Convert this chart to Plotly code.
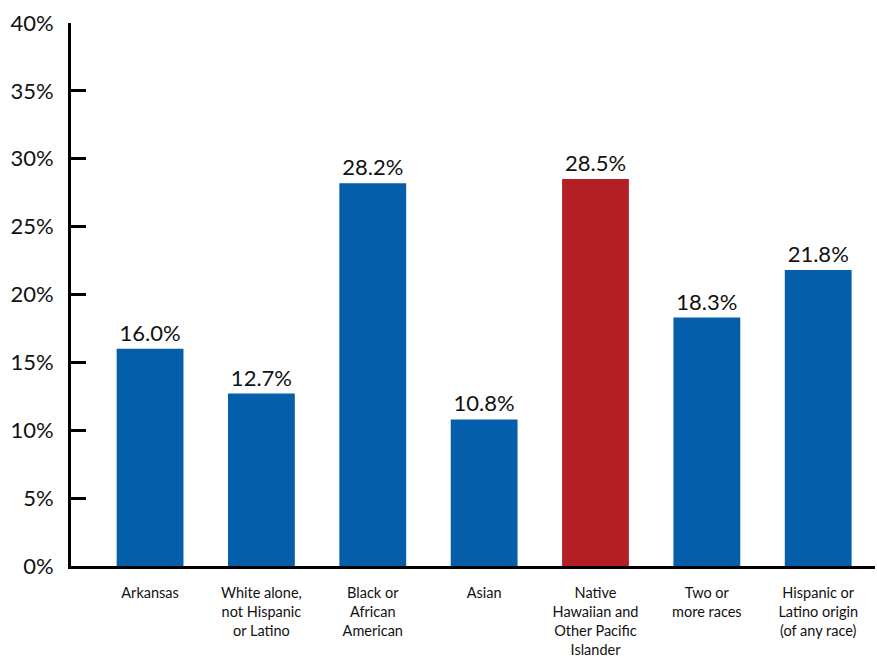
import plotly.graph_objects as go

categories = ["Arkansas", "White alone,<br>not Hispanic<br>or Latino", "Black or<br>African<br>American",
              "Asian", "Native<br>Hawaiian and<br>Other Pacific<br>Islander", "Two or<br>more races",
              "Hispanic or<br>Latino origin<br>(of any race)"]
values = [16.0, 12.7, 28.2, 10.8, 28.5, 18.3, 21.8]
colors = ["#045EA9", "#045EA9", "#045EA9", "#045EA9", "#B41F25", "#045EA9", "#045EA9"]
yticks = [0, 5, 10, 15, 20, 25, 30, 35, 40]

FONT = "Lato, 'Open Sans', sans-serif"

xs = list(range(len(categories)))
fig = go.Figure(go.Bar(
    x=xs, y=values, marker=dict(color=colors, line=dict(width=0)), width=0.6,
    text=[f"{v:.1f}%" for v in values], textposition="outside",
    textfont=dict(size=22, color="#111111", family=FONT), cliponaxis=False,
))
fig.update_layout(
    width=877, height=660, margin=dict(l=71, r=2, t=23, b=94),
    plot_bgcolor="white", paper_bgcolor="white", showlegend=False,
    font=dict(family=FONT, color="#111111"),
)
fig.update_xaxes(
    tickmode="array", tickvals=xs, ticktext=categories, range=[-0.71, 6.51],
    showline=True, linecolor="black", linewidth=3, ticks="", showgrid=False, automargin=False,
    tickfont=dict(size=14.5, family=FONT, color="#111111"), ticklabelstandoff=12, zeroline=False,
)
fig.update_yaxes(
    range=[0, 40], tickmode="array", tickvals=yticks, ticktext=[f"{t}%" for t in yticks],
    showline=True, linecolor="black", linewidth=3, ticks="inside", ticklen=15, tickwidth=3,
    tickcolor="black", showgrid=False, zeroline=False, automargin=False,
    tickfont=dict(size=22, family=FONT, color="#111111"), ticklabelstandoff=10,
)
fig.write_html("out.html")
